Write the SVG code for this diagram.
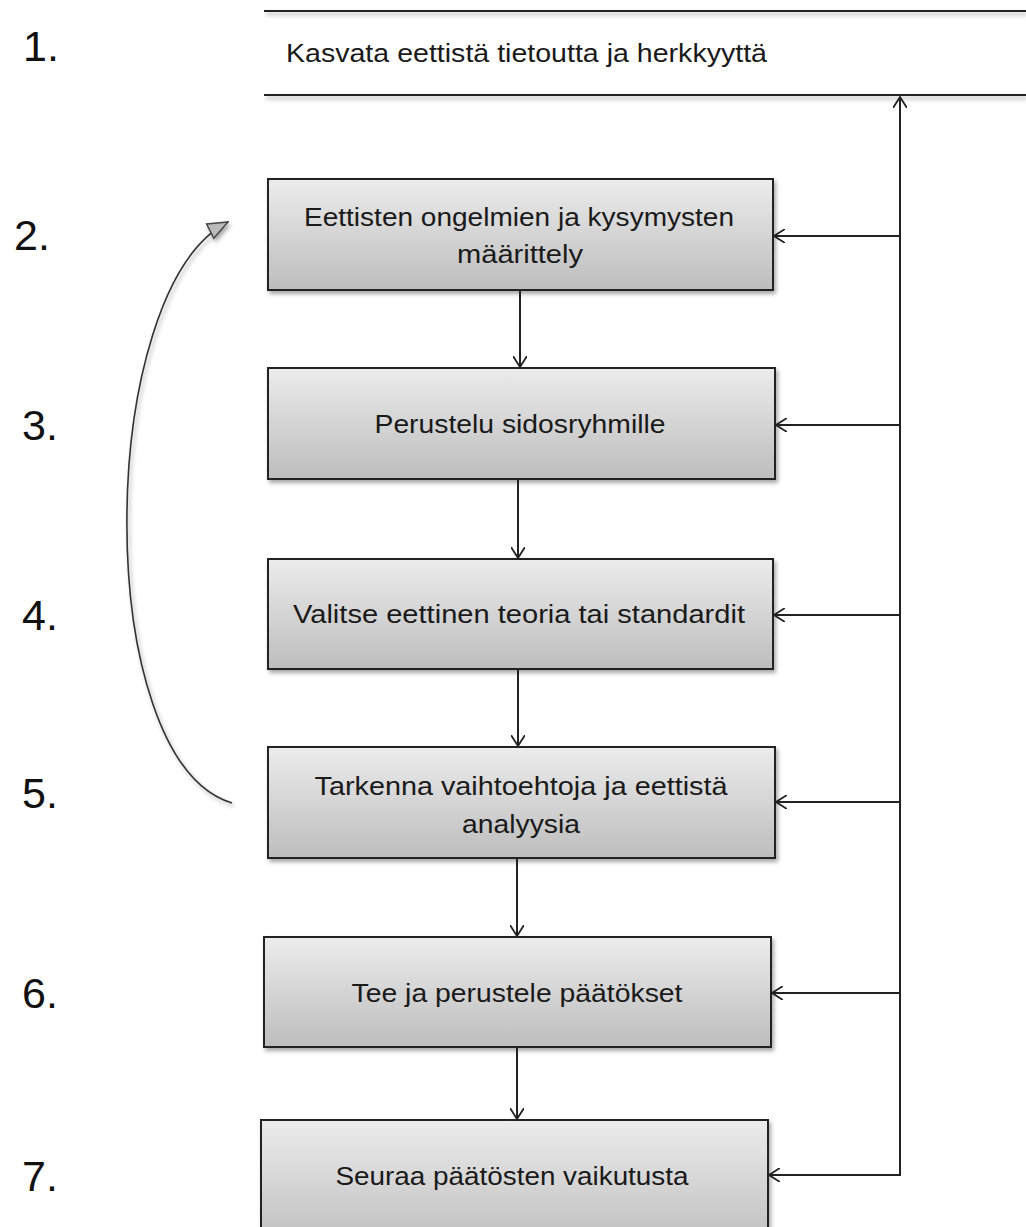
<svg xmlns="http://www.w3.org/2000/svg" width="1026" height="1227" viewBox="0 0 1026 1227">
<defs>
  <linearGradient id="boxg" x1="0" y1="0" x2="0" y2="1">
    <stop offset="0" stop-color="#ececec"/>
    <stop offset="1" stop-color="#bdbdbd"/>
  </linearGradient>
  <filter id="sh" x="-5%" y="-5%" width="115%" height="125%">
    <feGaussianBlur in="SourceAlpha" stdDeviation="2"/>
    <feOffset dx="2" dy="3" result="b"/>
    <feComponentTransfer><feFuncA type="linear" slope="0.35"/></feComponentTransfer>
    <feMerge><feMergeNode/><feMergeNode in="SourceGraphic"/></feMerge>
  </filter>
  <marker id="open" viewBox="0 0 12 14" refX="11" refY="7" markerWidth="12" markerHeight="14" markerUnits="userSpaceOnUse" orient="auto">
    <path d="M0,0 L11,7 L0,14" fill="none" stroke="#222" stroke-width="1.8"/>
  </marker>
  <marker id="tri" viewBox="0 0 22 18" refX="21" refY="9" markerWidth="22" markerHeight="18" markerUnits="userSpaceOnUse" orient="auto">
    <path d="M1,1 L21,9 L1,17 Z" fill="#bbb" stroke="#444" stroke-width="1.5"/>
  </marker>
</defs>
<style>
  .box { fill: url(#boxg); stroke: #222; stroke-width: 2; }
  .t { font-family: "Liberation Sans", Arial, sans-serif; font-size: 25px; fill: #1a1a1a; text-anchor: middle; }
  .num { font-family: "Liberation Sans", Arial, sans-serif; font-size: 43px; fill: #111; }
  .c { fill: none; stroke: #222; stroke-width: 2; }
</style>
<rect width="1026" height="1227" fill="#fff"/>

<g id="labels">
  <text class="num" x="23" y="61">1.</text>
  <text class="num" x="14" y="250">2.</text>
  <text class="num" x="22" y="440">3.</text>
  <text class="num" x="22" y="630">4.</text>
  <text class="num" x="22" y="808">5.</text>
  <text class="num" x="22" y="1008">6.</text>
  <text class="num" x="22" y="1191">7.</text>
</g>

<g id="n1">
  <g filter="url(#sh)">
    <line x1="264" y1="11" x2="1026" y2="11" stroke="#222" stroke-width="2"/>
    <line x1="264" y1="95" x2="1026" y2="95" stroke="#222" stroke-width="2"/>
  </g>
  <text class="t" x="286" y="62" style="text-anchor:start" textLength="481" lengthAdjust="spacingAndGlyphs">Kasvata eettistä tietoutta ja herkkyyttä</text>
</g>

<g id="n2">
  <rect class="box" x="268" y="179" width="505" height="111" filter="url(#sh)"/>
  <text class="t" x="519" y="226" textLength="430" lengthAdjust="spacingAndGlyphs">Eettisten ongelmien ja kysymysten</text>
  <text class="t" x="520" y="263" textLength="126" lengthAdjust="spacingAndGlyphs">määrittely</text>
</g>
<g id="n3">
  <rect class="box" x="268" y="368" width="507" height="111" filter="url(#sh)"/>
  <text class="t" x="520" y="433" textLength="291" lengthAdjust="spacingAndGlyphs">Perustelu sidosryhmille</text>
</g>
<g id="n4">
  <rect class="box" x="268" y="559" width="505" height="110" filter="url(#sh)"/>
  <text class="t" x="519" y="623" textLength="452" lengthAdjust="spacingAndGlyphs">Valitse eettinen teoria tai standardit</text>
</g>
<g id="n5">
  <rect class="box" x="268" y="747" width="507" height="111" filter="url(#sh)"/>
  <text class="t" x="521" y="795" textLength="413" lengthAdjust="spacingAndGlyphs">Tarkenna vaihtoehtoja ja eettistä</text>
  <text class="t" x="521" y="833" textLength="118" lengthAdjust="spacingAndGlyphs">analyysia</text>
</g>
<g id="n6">
  <rect class="box" x="264" y="937" width="507" height="110" filter="url(#sh)"/>
  <text class="t" x="517" y="1002" textLength="331" lengthAdjust="spacingAndGlyphs">Tee ja perustele päätökset</text>
</g>
<g id="n7">
  <rect class="box" x="261" y="1120" width="507" height="130" filter="url(#sh)"/>
  <text class="t" x="512" y="1185" textLength="353" lengthAdjust="spacingAndGlyphs">Seuraa päätösten vaikutusta</text>
</g>

<g id="connectors">
  <line class="c" x1="520" y1="290" x2="520" y2="367" marker-end="url(#open)"/>
  <line class="c" x1="518" y1="479" x2="518" y2="558" marker-end="url(#open)"/>
  <line class="c" x1="518" y1="669" x2="518" y2="746" marker-end="url(#open)"/>
  <line class="c" x1="517" y1="858" x2="517" y2="936" marker-end="url(#open)"/>
  <line class="c" x1="517" y1="1047" x2="517" y2="1119" marker-end="url(#open)"/>

  <line class="c" x1="900" y1="1176" x2="900" y2="97" marker-end="url(#open)"/>
  <line class="c" x1="900" y1="236" x2="774" y2="236" marker-end="url(#open)"/>
  <line class="c" x1="900" y1="425" x2="776" y2="425" marker-end="url(#open)"/>
  <line class="c" x1="900" y1="615" x2="774" y2="615" marker-end="url(#open)"/>
  <line class="c" x1="900" y1="802" x2="776" y2="802" marker-end="url(#open)"/>
  <line class="c" x1="900" y1="993" x2="772" y2="993" marker-end="url(#open)"/>
  <line class="c" x1="901" y1="1175" x2="769" y2="1175" marker-end="url(#open)"/>

  <path d="M232,803 C90,760 95,290 228,222" fill="none" stroke="#333" stroke-width="1.6" marker-end="url(#tri)" filter="url(#sh)"/>
</g>
</svg>
